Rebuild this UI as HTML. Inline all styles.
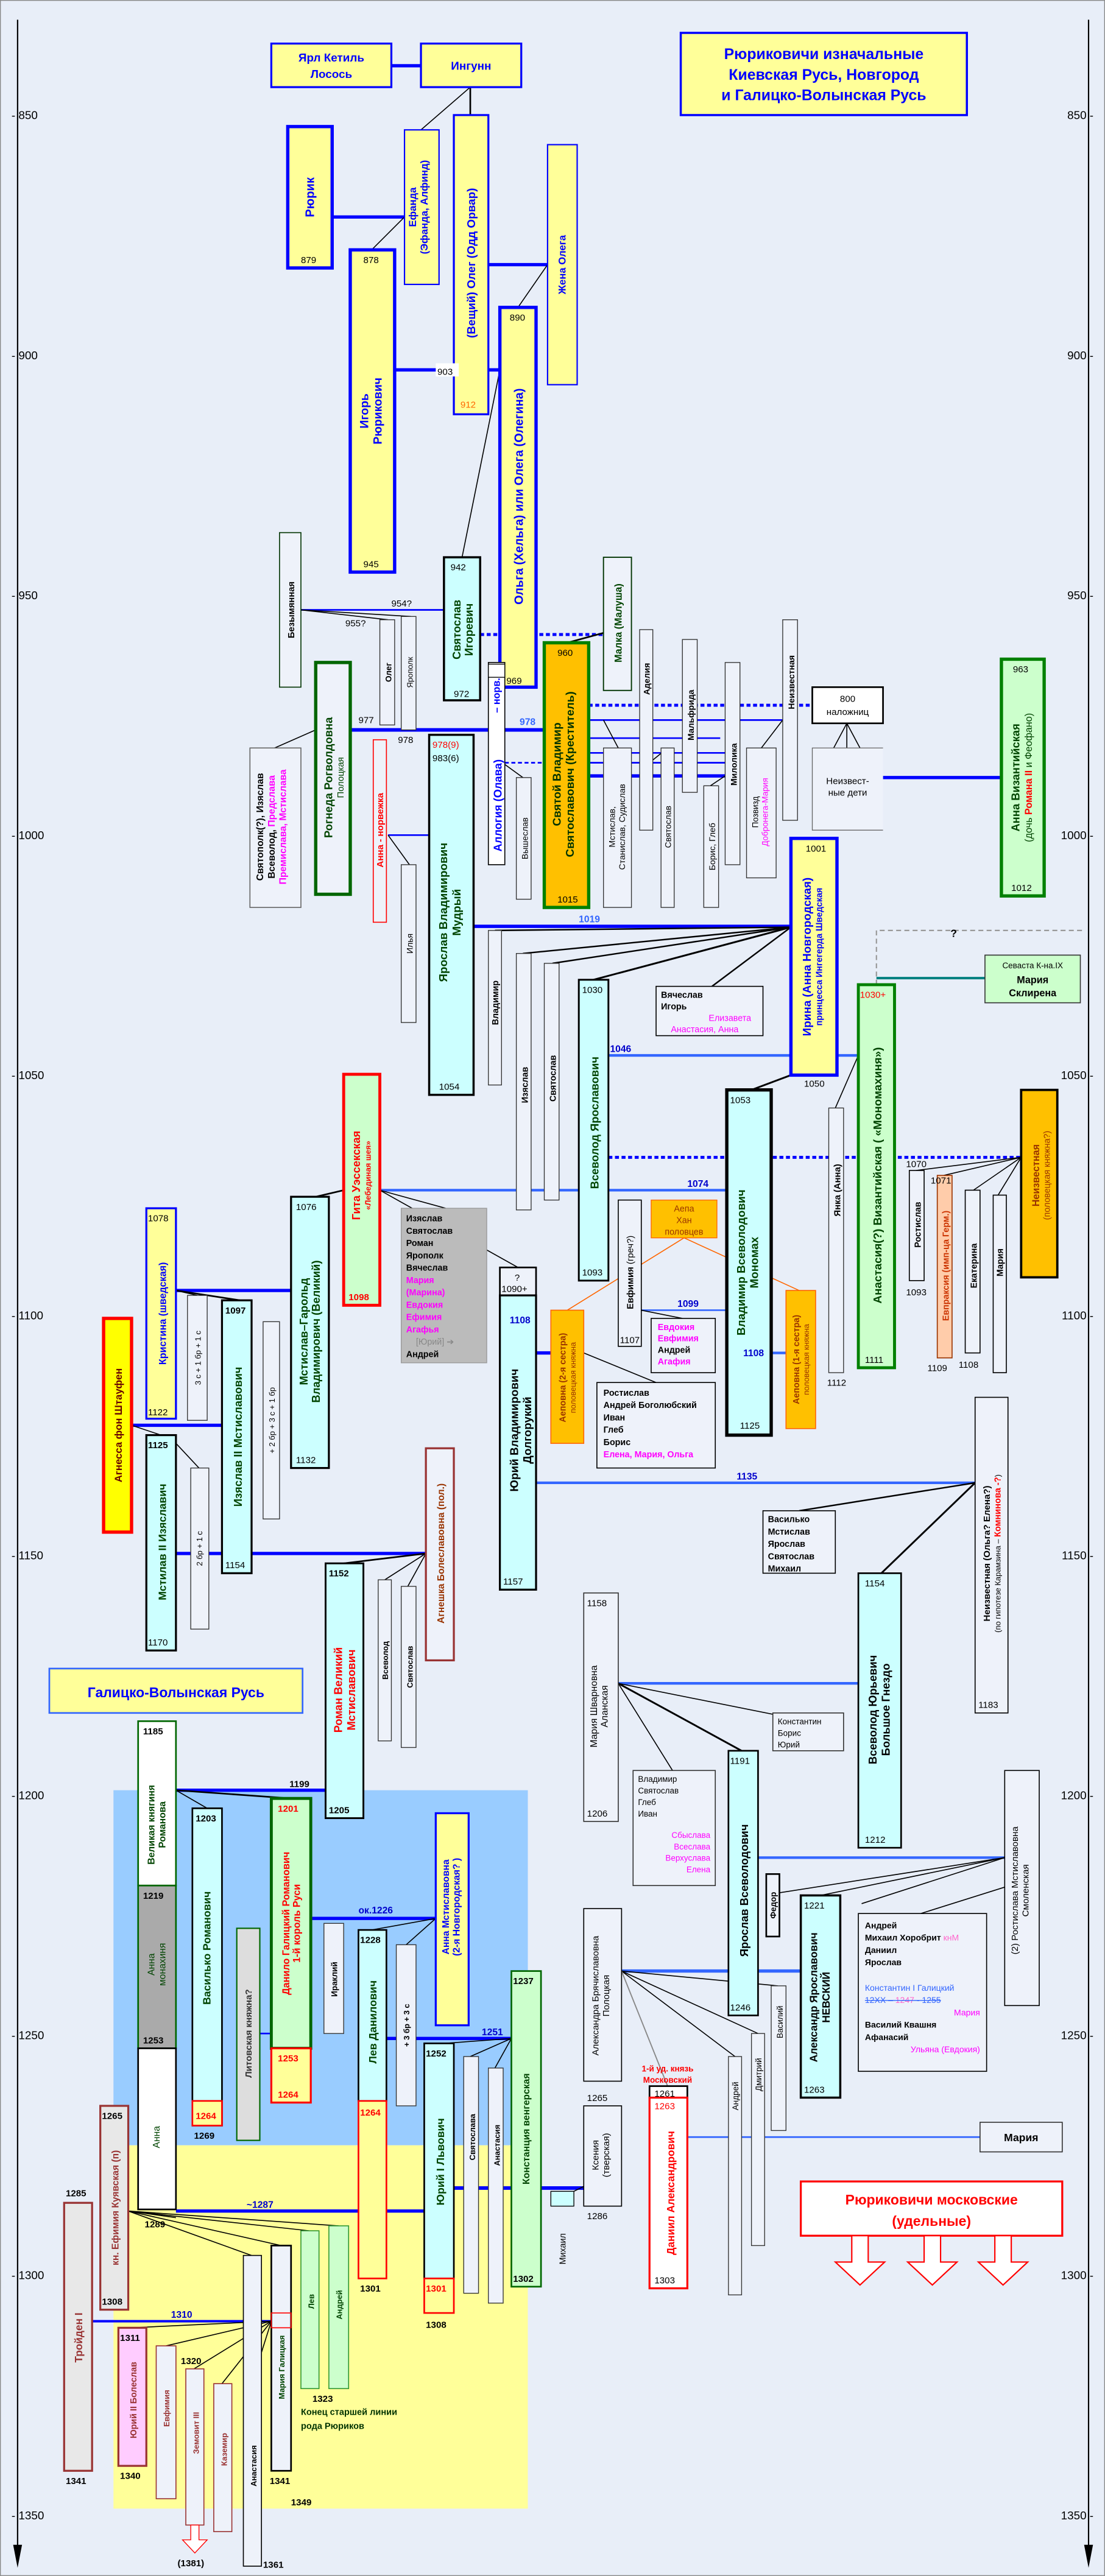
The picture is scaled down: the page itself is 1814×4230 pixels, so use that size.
<!DOCTYPE html>
<html><head><meta charset="utf-8"><style>
html,body{margin:0;padding:0;background:#e8eef8}
svg{display:block}
text{font-family:"Liberation Sans","DejaVu Sans",sans-serif}
.n{font-family:"Liberation Sans Narrow","Liberation Sans",sans-serif;font-size:5.6px;fill:#000}
.b{font-weight:bold}
.bl{fill:#0000ff}
.dg{fill:#004400}
.r{fill:#ff0000}
.m{fill:#ff00ff}
.br{fill:#993300}
.lbl{font-family:"Liberation Sans Narrow","Liberation Sans",sans-serif;font-size:5.8px;font-weight:bold;fill:#0000cc}
</style></head><body>
<svg xmlns="http://www.w3.org/2000/svg" width="1814" height="4230" viewBox="0 0 672 1567" preserveAspectRatio="none">
<rect x="0" y="0" width="672" height="1567" fill="#e8eef8" stroke="#888" stroke-width="1"/>
<!-- regions -->
<rect x="69" y="1089" width="252" height="216" fill="#99ccff"/>
<rect x="69" y="1305" width="252" height="221" fill="#ffff99"/>
<!-- axes -->
<g stroke="#000" stroke-width="0.8">
<line x1="10.7" y1="12" x2="10.7" y2="1556"/><line x1="662" y1="12" x2="662" y2="1556"/>
</g>
<polygon points="8,1548 13.4,1548 10.7,1562" fill="#000"/>
<polygon points="659.3,1548 664.7,1548 662,1562" fill="#000"/>
<g class="n" font-size="7">
<text x="7" y="72.5" font-size="7">- 850</text><text x="7" y="218.5" font-size="7">- 900</text><text x="7" y="364.5" font-size="7">- 950</text>
<text x="7" y="510.5" font-size="7">- 1000</text><text x="7" y="656.5" font-size="7">- 1050</text><text x="7" y="802.5" font-size="7">- 1100</text>
<text x="7" y="948.5" font-size="7">- 1150</text><text x="7" y="1094.5" font-size="7">- 1200</text><text x="7" y="1240.5" font-size="7">- 1250</text>
<text x="7" y="1386.5" font-size="7">- 1300</text><text x="7" y="1532.5" font-size="7">- 1350</text>
</g>
<g class="n" text-anchor="end">
<text x="665" y="72.5" font-size="7">850 -</text><text x="665" y="218.5" font-size="7">900 -</text><text x="665" y="364.5" font-size="7">950 -</text>
<text x="665" y="510.5" font-size="7">1000 -</text><text x="665" y="656.5" font-size="7">1050 -</text><text x="665" y="802.5" font-size="7">1100 -</text>
<text x="665" y="948.5" font-size="7">1150 -</text><text x="665" y="1094.5" font-size="7">1200 -</text><text x="665" y="1240.5" font-size="7">1250 -</text>
<text x="665" y="1386.5" font-size="7">1300 -</text><text x="665" y="1532.5" font-size="7">1350 -</text>
</g>

<!-- ============ CONNECTORS ============ -->
<g stroke="#0000ff" stroke-width="2" fill="none">
<line x1="238" y1="40" x2="256" y2="40"/>
<line x1="202" y1="132" x2="246" y2="132"/>
<line x1="297" y1="161" x2="333" y2="161"/>
<line x1="240" y1="225" x2="304" y2="225"/>
<line x1="183" y1="371" x2="270" y2="371" stroke-width="1"/>
<line x1="213" y1="444" x2="331" y2="444" stroke-width="2.2"/>
<line x1="358" y1="438" x2="476" y2="438" stroke-width="1"/>
<line x1="358" y1="449" x2="438" y2="449" stroke-width="1"/>
<line x1="358" y1="458" x2="441" y2="458" stroke-width="1"/>
<line x1="358" y1="464" x2="441" y2="464" stroke-width="1"/>
<line x1="358" y1="472" x2="441" y2="472" stroke-width="2"/>
<line x1="537" y1="473" x2="609" y2="473" stroke-width="2"/>
<line x1="236" y1="508" x2="261" y2="508" stroke-width="1"/>
<line x1="288" y1="563.5" x2="481" y2="563.5" stroke-width="2"/>
<line x1="107" y1="785" x2="177" y2="785" stroke-width="2"/>
<line x1="80" y1="867" x2="135" y2="867" stroke-width="2"/>
<line x1="107" y1="945" x2="259" y2="945" stroke-width="2"/>
<line x1="326" y1="823" x2="335" y2="823" stroke-width="2"/>
<line x1="107" y1="1089" x2="198" y2="1089" stroke-width="2"/>
<line x1="189" y1="1167" x2="265" y2="1167" stroke-width="2"/>
<line x1="235" y1="1240" x2="311" y2="1240" stroke-width="2"/>
<line x1="107" y1="1345" x2="258" y2="1345" stroke-width="2"/>
<line x1="56" y1="1412" x2="165" y2="1412" stroke-width="1.5"/>
<line x1="276" y1="1331" x2="355" y2="1331" stroke-width="2.2"/>
<line x1="158" y1="1237" x2="165" y2="1237" stroke-width="1"/>
</g>
<g stroke="#3366ff" stroke-width="1.6" fill="none">
<line x1="370" y1="642" x2="522" y2="642"/>
<line x1="231" y1="724" x2="442" y2="724"/>
<line x1="390" y1="797" x2="442" y2="797" stroke-width="1"/>
<line x1="469" y1="823" x2="478" y2="823"/>
<line x1="326" y1="902" x2="593" y2="902"/>
<line x1="376" y1="1024" x2="522" y2="1024"/>
<line x1="461" y1="1130" x2="611" y2="1130"/>
<line x1="378" y1="1199" x2="487" y2="1199" stroke-width="2"/>
<line x1="418" y1="1300" x2="596" y2="1300" stroke-width="1"/>
</g>
<g stroke="#0000ff" stroke-width="1.8" stroke-dasharray="2.4,1.6" fill="none">
<line x1="292" y1="386" x2="367" y2="386"/>
<line x1="358" y1="429" x2="493" y2="429"/>
<line x1="307" y1="464" x2="331" y2="464" stroke-width="1"/>
<line x1="370" y1="704" x2="621" y2="704"/>
</g>
<g stroke="#999" stroke-width="0.8" stroke-dasharray="3,2" fill="none">
<polyline points="533,599 533,566 660,566"/>
</g>
<line x1="533" y1="595" x2="599" y2="595" stroke="#008080" stroke-width="1.5"/>
<g stroke="#000" stroke-width="0.6" fill="none">
<line x1="286" y1="53" x2="256" y2="79"/><line x1="286" y1="53" x2="286" y2="70" stroke-width="1"/>
<line x1="246" y1="132" x2="226" y2="152"/>
<line x1="333" y1="161" x2="315" y2="187"/>
<line x1="304" y1="225" x2="281" y2="339"/>
<line x1="183" y1="371" x2="236" y2="377"/><line x1="183" y1="371" x2="250" y2="375"/>
<line x1="367" y1="385" x2="345" y2="391" stroke-width="1"/>
<line x1="192" y1="444" x2="167" y2="455"/>
<line x1="236" y1="508" x2="249" y2="526"/>
<line x1="307" y1="465" x2="318" y2="473"/>
<line x1="367" y1="438" x2="376" y2="455"/><line x1="395" y1="464" x2="406" y2="455"/><line x1="441" y1="472" x2="432" y2="478"/>
<line x1="476" y1="438" x2="463" y2="455"/>
<line x1="515" y1="440" x2="507" y2="455"/><line x1="515" y1="440" x2="515" y2="455"/><line x1="515" y1="440" x2="523" y2="455"/>
<line x1="481" y1="564" x2="301" y2="566" stroke-width="0.9"/><line x1="481" y1="564" x2="318" y2="580" stroke-width="0.9"/>
<line x1="481" y1="564" x2="336" y2="586" stroke-width="0.9"/><line x1="481" y1="564" x2="361" y2="596" stroke-width="1.1"/>
<line x1="481" y1="564" x2="433" y2="600" stroke-width="0.9"/>
<line x1="481" y1="654" x2="457" y2="663" stroke-width="1.1"/>
<line x1="522" y1="642" x2="508" y2="674"/>
<line x1="621" y1="704" x2="557" y2="712"/><line x1="621" y1="704" x2="574" y2="715"/><line x1="621" y1="704" x2="592" y2="724"/><line x1="621" y1="704" x2="607" y2="727"/>
<line x1="209" y1="724" x2="192" y2="728" stroke-width="1"/>
<line x1="231" y1="724" x2="271" y2="735"/><line x1="231" y1="724" x2="315" y2="771"/>
<line x1="107" y1="785" x2="120" y2="788"/><line x1="107" y1="785" x2="146" y2="791" stroke-width="1"/>
<line x1="80" y1="867" x2="98" y2="873"/><line x1="107" y1="878" x2="121" y2="893"/>
<line x1="259" y1="945" x2="209" y2="951" stroke-width="1"/><line x1="259" y1="945" x2="234" y2="961"/><line x1="259" y1="945" x2="248" y2="965"/>
<line x1="355" y1="823" x2="399" y2="841"/>
<line x1="390" y1="797" x2="415" y2="802"/>
<line x1="593" y1="902" x2="486" y2="919" stroke-width="0.9"/><line x1="593" y1="902" x2="536" y2="957" stroke-width="1.1"/>
<line x1="376" y1="1024" x2="409" y2="1077"/><line x1="376" y1="1024" x2="471" y2="1043"/><line x1="376" y1="1024" x2="451" y2="1065" stroke-width="1.1"/>
<line x1="107" y1="1089" x2="126" y2="1100"/><line x1="107" y1="1089" x2="177" y2="1094" stroke-width="1"/>
<line x1="265" y1="1167" x2="226" y2="1174"/><line x1="265" y1="1167" x2="247" y2="1183"/>
<line x1="311" y1="1240" x2="270" y2="1243"/><line x1="311" y1="1240" x2="286" y2="1251"/><line x1="311" y1="1240" x2="301" y2="1258"/>
<line x1="611" y1="1130" x2="470" y2="1152"/><line x1="611" y1="1130" x2="499" y2="1153"/><line x1="611" y1="1130" x2="524" y2="1158"/>
<line x1="378" y1="1199" x2="473" y2="1208"/><line x1="378" y1="1199" x2="461" y2="1237"/><line x1="378" y1="1199" x2="447" y2="1251"/>
<line x1="630" y1="1142" x2="560" y2="1164"/>
<line x1="78" y1="1345" x2="171" y2="1366"/><line x1="78" y1="1345" x2="153" y2="1372"/><line x1="78" y1="1345" x2="188" y2="1357"/><line x1="78" y1="1345" x2="206" y2="1354"/>
<line x1="78" y1="1345" x2="107" y2="1349"/>
<line x1="165" y1="1412" x2="80" y2="1416"/><line x1="165" y1="1412" x2="101" y2="1427"/><line x1="165" y1="1412" x2="118" y2="1441"/><line x1="165" y1="1412" x2="135" y2="1450"/><line x1="165" y1="1412" x2="153" y2="1450"/>
<line x1="349" y1="1333" x2="355" y2="1330"/>
</g>
<line x1="378" y1="1199" x2="406" y2="1269" stroke="#888" stroke-width="0.7"/>
<line x1="260" y1="756" x2="295" y2="781" stroke="#999" stroke-width="0.5"/>
<g stroke="#ff6600" stroke-width="0.6" fill="none">
<line x1="416" y1="753" x2="345" y2="797"/><line x1="416" y1="753" x2="486" y2="785"/>
</g>

<!-- ============ BOXES ============ -->
<!-- title -->
<rect x="414" y="20" width="174" height="50" fill="#ffff99" stroke="#0000ff" stroke-width="1.3"/>
<g class="b" font-size="9.2" fill="#0000ff" text-anchor="middle" style="font-family:'Liberation Sans Narrow','Liberation Sans',sans-serif">
<text x="501" y="36">Рюриковичи изначальные</text><text x="501" y="48.5">Киевская Русь, Новгород</text><text x="501" y="61">и Галицко-Волынская Русь</text>
</g>
<rect x="165" y="26.5" width="73" height="26.5" fill="#ffff99" stroke="#0000ff" stroke-width="1.2"/>
<rect x="256" y="26.5" width="61" height="26.5" fill="#ffff99" stroke="#0000ff" stroke-width="1.2"/>
<g class="b" font-size="7" fill="#0000ff" text-anchor="middle" style="font-family:'Liberation Sans Narrow','Liberation Sans',sans-serif">
<text x="201.5" y="37.5">Ярл Кетиль</text><text x="201.5" y="47.5">Лосось</text><text x="286.5" y="42.5">Ингунн</text>
</g>

<!-- Rurik etc -->
<rect x="175" y="77" width="27" height="86" fill="#ffff99" stroke="#0000ff" stroke-width="2"/>
<text transform="translate(191,120) rotate(-90)" text-anchor="middle" class="b bl" font-size="7.5">Рюрик</text>
<text x="183" y="160" class="n">879</text>
<rect x="246" y="79" width="21" height="94" fill="#ffff99" stroke="#0000ff" stroke-width="0.8"/>
<text transform="translate(253,126) rotate(-90)" text-anchor="middle" class="b bl" font-size="6.2">Ефанда<tspan x="0" dy="7">(Эфанда, Алфинд)</tspan></text>
<rect x="276" y="70" width="21" height="182" fill="#ffff99" stroke="#0000ff" stroke-width="1.2"/>
<text transform="translate(289,160) rotate(-90)" text-anchor="middle" class="b bl" font-size="7">(Вещий) Олег (Одд Орвар)</text>
<text x="280" y="248" class="n" fill="#ff6600" style="fill:#ff6600">912</text>
<rect x="333" y="88" width="18" height="146" fill="#ffff99" stroke="#0000ff" stroke-width="0.8"/>
<text transform="translate(344,161) rotate(-90)" text-anchor="middle" class="b bl" font-size="6.2">Жена Олега</text>
<rect x="213" y="152" width="27" height="196" fill="#ffff99" stroke="#0000ff" stroke-width="2"/>
<text transform="translate(224,250) rotate(-90)" text-anchor="middle" class="b bl" font-size="7.2">Игорь<tspan x="0" dy="8">Рюрикович</tspan></text>
<text x="221" y="160" class="n">878</text><text x="221" y="345" class="n">945</text>
<rect x="304" y="187" width="22" height="231" fill="#ffff99" stroke="#0000ff" stroke-width="2"/>
<text transform="translate(318,302) rotate(-90)" text-anchor="middle" class="b bl" font-size="7.4">Ольга (Хельга) или Олега (Олегина)</text>
<text x="310" y="195" class="n">890</text><text x="308" y="416" class="n">969</text>
<rect x="265" y="221" width="14" height="8" fill="#fff"/><text x="266" y="228" class="n" font-size="6.5">903</text>

<!-- 950s -->
<rect x="170" y="324" width="13" height="94" fill="#eef2fa" stroke="#003300" stroke-width="0.6"/>
<text transform="translate(179,371) rotate(-90)" text-anchor="middle" class="b" font-size="5.5">Безымянная</text>
<text x="238" y="369" class="n">954?</text><text x="210" y="381" class="n">955?</text>
<rect x="231" y="377" width="9" height="64" fill="#eef2fa" stroke="#333" stroke-width="0.5"/>
<text transform="translate(238,409) rotate(-90)" text-anchor="middle" class="b" font-size="5">Олег</text>
<text x="218" y="440" class="n">977</text>
<rect x="244" y="375" width="9" height="69" fill="#eef2fa" stroke="#333" stroke-width="0.5"/>
<text transform="translate(251,409) rotate(-90)" text-anchor="middle" font-size="4.8">Ярополк</text>
<text x="242" y="452" class="n">978</text>
<rect x="270" y="339" width="22" height="87" fill="#ccffff" stroke="#000" stroke-width="1.3"/>
<text transform="translate(280,383) rotate(-90)" text-anchor="middle" class="b dg" font-size="6.8">Святослав<tspan x="0" dy="7.5">Игоревич</tspan></text>
<text x="274" y="347" class="n">942</text><text x="276" y="424" class="n">972</text>
<rect x="367" y="339" width="17" height="81" fill="#eef2fa" stroke="#003300" stroke-width="0.7"/>
<text transform="translate(378,379) rotate(-90)" text-anchor="middle" class="b dg" font-size="6">Малка (Малуша)</text>
<rect x="297" y="403" width="10" height="123" fill="#fff" stroke="#000" stroke-width="0.6"/>
<text transform="translate(304,423) rotate(-90)" text-anchor="middle" class="b bl" font-size="6">– норв.</text>
<text transform="translate(305,490) rotate(-90)" text-anchor="middle" class="b bl" font-size="6.8">Аллогия (Олава)</text>
<rect x="297" y="404" width="10" height="8" fill="#fff" stroke="#000" stroke-width="0.5"/>
<rect x="331" y="391" width="27" height="161" fill="#ffc000" stroke="#008000" stroke-width="2"/>
<text transform="translate(341,471) rotate(-90)" text-anchor="middle" class="b" font-size="7" fill="#003300">Святой Владимир<tspan x="0" dy="8">Святославович (Креститель)</tspan></text>
<text x="339" y="399" class="n">960</text><text x="339" y="549" class="n">1015</text>
<text x="316" y="441" class="lbl" fill="#3366ff" style="fill:#3366ff">978</text>
<rect x="192" y="403" width="21" height="141" fill="#eef2fa" stroke="#006600" stroke-width="2"/>
<text transform="translate(202,473) rotate(-90)" text-anchor="middle" class="b dg" font-size="6.8">Рогнеда  Рогволдовна<tspan x="0" dy="7" font-size="5.5" font-weight="normal">Полоцкая</tspan></text>
<rect x="152" y="455" width="31" height="97" fill="#eef2fa" stroke="#666" stroke-width="0.6"/>
<text transform="translate(160,503) rotate(-90)" text-anchor="middle" class="b" font-size="5.8">Святополк(?), Изяслав<tspan x="0" dy="7">Всеволод, <tspan class="m">Предслава</tspan></tspan><tspan x="0" dy="7" class="m">Премислава, Мстислава</tspan></text>
<rect x="227" y="450" width="8" height="111" fill="#eef2fa" stroke="#ff0000" stroke-width="0.6"/>
<text transform="translate(233,505) rotate(-90)" text-anchor="middle" class="b r" font-size="5.6">Анна - норвежка</text>
<rect x="244" y="526" width="9" height="96" fill="#eef2fa" stroke="#333" stroke-width="0.5"/>
<text transform="translate(251,574) rotate(-90)" text-anchor="middle" font-size="5.2">Илья</text>
<rect x="261" y="447" width="27" height="219" fill="#ccffff" stroke="#000" stroke-width="1.3"/>
<text transform="translate(272,555) rotate(-90)" text-anchor="middle" class="b dg" font-size="7">Ярослав Владимирович<tspan x="0" dy="8">Мудрый</tspan></text>
<text x="263" y="455" class="n" style="fill:#ff0000">978(9)</text><text x="263" y="463" class="n">983(6)</text><text x="267" y="663" class="n">1054</text>
<rect x="314" y="473" width="9" height="74" fill="#eef2fa" stroke="#333" stroke-width="0.5"/>
<text transform="translate(321,510) rotate(-90)" text-anchor="middle" font-size="5.2">Вышеслав</text>
<rect x="367" y="455" width="17" height="97" fill="#eef2fa" stroke="#333" stroke-width="0.5"/>
<text transform="translate(374,503) rotate(-90)" text-anchor="middle" font-size="5.2">Мстислав,<tspan x="0" dy="6">Станислав, Судислав</tspan></text>
<rect x="389" y="383" width="8" height="122" fill="#eef2fa" stroke="#333" stroke-width="0.5"/>
<text transform="translate(395,413) rotate(-90)" text-anchor="middle" class="b" font-size="5.2">Аделия</text>
<rect x="402" y="455" width="8" height="97" fill="#eef2fa" stroke="#333" stroke-width="0.5"/>
<text transform="translate(408,503) rotate(-90)" text-anchor="middle" font-size="5.2">Святослав</text>
<rect x="415" y="389" width="9" height="93" fill="#eef2fa" stroke="#333" stroke-width="0.5"/>
<text transform="translate(422,435) rotate(-90)" text-anchor="middle" class="b" font-size="5.2">Мальфрида</text>
<rect x="428" y="478" width="9" height="74" fill="#eef2fa" stroke="#333" stroke-width="0.5"/>
<text transform="translate(435,515) rotate(-90)" text-anchor="middle" font-size="5.2">Борис, Глеб</text>
<rect x="441" y="403" width="9" height="123" fill="#eef2fa" stroke="#333" stroke-width="0.5"/>
<text transform="translate(448,465) rotate(-90)" text-anchor="middle" class="b" font-size="5.2">Милолика</text>
<rect x="454" y="455" width="18" height="79" fill="#eef2fa" stroke="#333" stroke-width="0.5"/>
<text transform="translate(461,494) rotate(-90)" text-anchor="middle" font-size="5">Позвизд<tspan x="0" dy="6" class="m">Добронега-Мария</tspan></text>
<rect x="476" y="377" width="9" height="122" fill="#eef2fa" stroke="#333" stroke-width="0.5"/>
<text transform="translate(483,415) rotate(-90)" text-anchor="middle" class="b" font-size="5.2">Неизвестная</text>
<rect x="494" y="418" width="43" height="22" fill="#fff" stroke="#000" stroke-width="1"/>
<text x="515.5" y="427" text-anchor="middle" class="n" font-size="5.5">800</text><text x="515.5" y="435" text-anchor="middle" class="n" font-size="5.5">наложниц</text>
<polyline points="537,455 494,455 494,505 537,505" fill="#eef2fa" stroke="#666" stroke-width="0.5"/>
<text x="515.5" y="477" text-anchor="middle" class="n" font-size="5">Неизвест-</text><text x="515.5" y="484" text-anchor="middle" class="n" font-size="5">ные дети</text>
<rect x="609" y="401" width="26" height="144" fill="#ccffcc" stroke="#008000" stroke-width="2"/>
<text transform="translate(620,473) rotate(-90)" text-anchor="middle" class="b dg" font-size="6.8">Анна Византийская<tspan x="0" dy="7.5" font-weight="normal" font-size="6">(дочь <tspan class="r b">Романа II</tspan> и Феофано)</tspan></text>
<text x="616" y="409" class="n">963</text><text x="615" y="542" class="n">1012</text>

<!-- 1000-1050 -->
<text x="352" y="561" class="lbl" style="fill:#3366ff">1019</text>
<rect x="481" y="510" width="28" height="144" fill="#ffff99" stroke="#0000ff" stroke-width="2"/>
<text transform="translate(493,582) rotate(-90)" text-anchor="middle" class="b bl" font-size="7">Ирина (Анна Новгородская)<tspan x="0" dy="7" font-size="5.3">принцесса Ингегерда Шведская</tspan></text>
<text x="490" y="518" class="n">1001</text><text x="489" y="661" class="n">1050</text>
<rect x="297" y="566" width="8" height="94" fill="#eef2fa" stroke="#333" stroke-width="0.5"/>
<text transform="translate(303,610) rotate(-90)" text-anchor="middle" class="b" font-size="5.3">Владимир</text>
<rect x="314" y="580" width="9" height="156" fill="#eef2fa" stroke="#333" stroke-width="0.5"/>
<text transform="translate(321,660) rotate(-90)" text-anchor="middle" class="b" font-size="5.3">Изяслав</text>
<rect x="331" y="586" width="9" height="144" fill="#eef2fa" stroke="#333" stroke-width="0.5"/>
<text transform="translate(338,656) rotate(-90)" text-anchor="middle" class="b" font-size="5.3">Святослав</text>
<rect x="352" y="596" width="18" height="183" fill="#ccffff" stroke="#000" stroke-width="1.1"/>
<text transform="translate(364,683) rotate(-90)" text-anchor="middle" class="b dg" font-size="6.8">Всеволод Ярославович</text>
<text x="354" y="604" class="n">1030</text><text x="354" y="776" class="n">1093</text>
<rect x="399" y="600" width="65" height="30" fill="#eef2fa" stroke="#000" stroke-width="0.6"/>
<g class="n" font-size="5.3"><text x="402" y="607" font-size="5.3" font-weight="bold">Вячеслав</text><text x="402" y="614" font-size="5.3" font-weight="bold">Игорь</text>
<text x="431" y="621" font-size="5.3" class="m" style="fill:#ff00ff">Елизавета</text><text x="408" y="628" font-size="5.3" style="fill:#ff00ff">Анастасия, Анна</text></g>
<text x="371" y="640" class="lbl">1046</text>
<rect x="599" y="581" width="58" height="29" fill="#ccffcc" stroke="#333" stroke-width="0.6"/>
<g class="n" text-anchor="middle"><text x="628" y="589" font-size="5">Севаста К-на.IX</text><text x="628" y="598" font-size="6" font-weight="bold">Мария</text><text x="628" y="606" font-size="6" font-weight="bold">Склирена</text></g>
<text x="578" y="570" class="b" font-size="6.5">?</text>
<rect x="522" y="599" width="22" height="233" fill="#ccffcc" stroke="#008000" stroke-width="1.8"/>
<text transform="translate(536,715) rotate(-90)" text-anchor="middle" class="b dg" font-size="7">Анастасия(?) Византийская ( «Мономахиня»)</text>
<text x="523" y="607" class="n" style="fill:#ff0000">1030+</text><text x="526" y="829" class="n">1111</text>
<rect x="442" y="663" width="27" height="210" fill="#ccffff" stroke="#000" stroke-width="2"/>
<text transform="translate(453,768) rotate(-90)" text-anchor="middle" class="b dg" font-size="7">Владимир Всеволодович<tspan x="0" dy="8">Мономах</tspan></text>
<text x="444" y="671" class="n">1053</text><text x="450" y="869" class="n">1125</text>
<rect x="504" y="674" width="9" height="161" fill="#eef2fa" stroke="#333" stroke-width="0.5"/>
<text transform="translate(511,724) rotate(-90)" text-anchor="middle" class="b" font-size="5.5">Янка (Анна)</text>
<text x="503" y="843" class="n">1112</text>
<rect x="621" y="663" width="22" height="114" fill="#ffc000" stroke="#000" stroke-width="1.4"/>
<text transform="translate(632,715) rotate(-90)" text-anchor="middle" class="b br" font-size="6" style="fill:#993300">Неизвестная<tspan x="0" dy="6.5" font-weight="normal" font-size="5.3">(половецкая княжна?)</tspan></text>
<rect x="553" y="712" width="9" height="67" fill="#eef2fa" stroke="#000" stroke-width="0.6"/>
<text transform="translate(560,745) rotate(-90)" text-anchor="middle" class="b" font-size="5.3">Ростислав</text>
<text x="551" y="710" class="n">1070</text><text x="551" y="788" class="n">1093</text>
<rect x="570" y="715" width="9" height="111" fill="#ffccaa" stroke="#993300" stroke-width="0.6"/>
<text transform="translate(577,770) rotate(-90)" text-anchor="middle" class="b br" font-size="5.3" style="fill:#cc3300">Евпраксия (имп-ца Герм.)</text>
<text x="566" y="720" class="n">1071</text><text x="564" y="834" class="n">1109</text>
<rect x="587" y="724" width="9" height="99" fill="#eef2fa" stroke="#000" stroke-width="0.6"/>
<text transform="translate(594,770) rotate(-90)" text-anchor="middle" class="b" font-size="5.3">Екатерина</text>
<text x="583" y="832" class="n">1108</text>
<rect x="604" y="727" width="8" height="108" fill="#eef2fa" stroke="#000" stroke-width="0.6"/>
<text transform="translate(610,768) rotate(-90)" text-anchor="middle" class="b" font-size="5.3">Мария</text>
<text x="418" y="722" class="lbl">1074</text>

<!-- 1050-1100 left -->
<rect x="209" y="653.5" width="22" height="140.5" fill="#ccffcc" stroke="#ff0000" stroke-width="1.8"/>
<text transform="translate(219,715) rotate(-90)" text-anchor="middle" class="b r" font-size="6.8">Гита Уэссекская<tspan x="0" dy="6.5" font-size="4.8">«Лебединая шея»</tspan></text>
<text x="212" y="791" class="n" style="fill:#ff0000;font-weight:bold">1098</text>
<rect x="177" y="728" width="23" height="165" fill="#ccffff" stroke="#000" stroke-width="1.2"/>
<text transform="translate(187,810) rotate(-90)" text-anchor="middle" class="b dg" font-size="6.8">Мстислав–Гарольд<tspan x="0" dy="7.5">Владимирович (Великий)</tspan></text>
<text x="180" y="736" class="n">1076</text><text x="180" y="890" class="n">1132</text>
<rect x="244" y="735" width="52" height="94" fill="#bbbbbb" stroke="#999" stroke-width="0.5"/>
<g class="b" font-size="5.3" style="font-family:'Liberation Sans Narrow','Liberation Sans',sans-serif">
<text x="247" y="743">Изяслав</text><text x="247" y="750.5">Святослав</text><text x="247" y="758">Роман</text><text x="247" y="765.5">Ярополк</text><text x="247" y="773">Вячеслав</text>
<text x="247" y="780.5" fill="#ff00ff">Мария</text><text x="247" y="788" fill="#ff00ff">(Марина)</text><text x="247" y="795.5" fill="#ff00ff">Евдокия</text><text x="247" y="803" fill="#ff00ff">Ефимия</text><text x="247" y="810.5" fill="#ff00ff">Агафья</text>
<text x="253" y="818" fill="#888" font-weight="normal">[Юрий] ➔</text><text x="247" y="825.5">Андрей</text></g>
<rect x="304" y="771" width="22" height="17" fill="#eef2fa" stroke="#000" stroke-width="1"/>
<text x="313" y="779" class="n">?</text><text x="305" y="786" class="n">1090+</text>
<rect x="304" y="788" width="22" height="179" fill="#ccffff" stroke="#000" stroke-width="1.2"/>
<text transform="translate(315,870) rotate(-90)" text-anchor="middle" class="b" font-size="7">Юрий Владимирович<tspan x="0" dy="8">Долгорукий</tspan></text>
<text x="310" y="805" class="lbl">1108</text><text x="306" y="964" class="n">1157</text>
<rect x="89" y="735" width="18" height="128" fill="#ffff99" stroke="#0000ff" stroke-width="1.2"/>
<text transform="translate(101,799) rotate(-90)" text-anchor="middle" class="b bl" font-size="6">Кристина (шведская)</text>
<text x="90" y="743" class="n">1078</text><text x="90" y="861" class="n">1122</text>
<rect x="114" y="788" width="12" height="76" fill="#eef2fa" stroke="#333" stroke-width="0.5"/>
<text transform="translate(122,826) rotate(-90)" text-anchor="middle" font-size="4.8">3 с + 1 бр + 1 с</text>
<rect x="135" y="791" width="18" height="166" fill="#ccffff" stroke="#000" stroke-width="1.2"/>
<text transform="translate(147,874) rotate(-90)" text-anchor="middle" class="b dg" font-size="6.8">Изяслав II  Мстиславович</text>
<text x="137" y="799" class="n b" style="font-weight:bold">1097</text><text x="137" y="954" class="n">1154</text>
<rect x="160" y="804" width="10" height="120" fill="#eef2fa" stroke="#333" stroke-width="0.5"/>
<text transform="translate(167,864) rotate(-90)" text-anchor="middle" font-size="4.8">+ 2 бр + 3 с + 1 бр</text>
<rect x="63" y="802" width="17" height="130" fill="#ffff00" stroke="#ff0000" stroke-width="2"/>
<text transform="translate(74,867) rotate(-90)" text-anchor="middle" class="b" font-size="6.2" fill="#660000">Агнесса фон Штауфен</text>
<rect x="89" y="873" width="18" height="131" fill="#ccffff" stroke="#000" stroke-width="1.2"/>
<text transform="translate(101,938) rotate(-90)" text-anchor="middle" class="b dg" font-size="6.6">Мстилав II  Изяславич</text>
<text x="90" y="881" class="n b" style="font-weight:bold">1125</text><text x="90" y="1001" class="n">1170</text>
<rect x="116" y="893" width="11" height="98" fill="#eef2fa" stroke="#333" stroke-width="0.5"/>
<text transform="translate(123,942) rotate(-90)" text-anchor="middle" font-size="4.8">2 бр + 1 с</text>

<!-- Aepa group -->
<rect x="396" y="730" width="40" height="23" fill="#ffc000" stroke="#ff6600" stroke-width="0.5"/>
<g class="n" text-anchor="middle" style="fill:#993300"><text x="416" y="737" font-size="5.3" style="fill:#993300">Аепа</text><text x="416" y="744" font-size="5.3" style="fill:#993300">Хан</text><text x="416" y="751" font-size="5.3" style="fill:#993300">половцев</text></g>
<rect x="376" y="730" width="14" height="89" fill="#eef2fa" stroke="#000" stroke-width="0.6"/>
<text transform="translate(385,774) rotate(-90)" text-anchor="middle" class="b" font-size="5.5">Евфимия <tspan font-weight="normal">(греч?)</tspan></text>
<text x="377" y="817" class="n">1107</text>
<text x="412" y="795" class="lbl">1099</text>
<rect x="396" y="802" width="39" height="33" fill="#eef2fa" stroke="#000" stroke-width="0.6"/>
<g class="b" font-size="5.3" style="font-family:'Liberation Sans Narrow','Liberation Sans',sans-serif"><text x="400" y="809" fill="#ff00ff">Евдокия</text><text x="400" y="816" fill="#ff00ff">Евфимия</text><text x="400" y="823">Андрей</text><text x="400" y="830" fill="#ff00ff">Агафия</text></g>
<rect x="335" y="797" width="20" height="81" fill="#ffc000" stroke="#ff6600" stroke-width="0.6"/>
<text transform="translate(344,838) rotate(-90)" text-anchor="middle" class="b br" font-size="5.3" style="fill:#993300">Аеповна (2-я сестра)<tspan x="0" dy="6" font-weight="normal" font-size="4.8">половецкая княжна</tspan></text>
<rect x="478" y="785" width="18" height="84" fill="#ffc000" stroke="#ff6600" stroke-width="0.6"/>
<text transform="translate(486,827) rotate(-90)" text-anchor="middle" class="b br" font-size="5.3" style="fill:#993300">Аеповна (1-я сестра)<tspan x="0" dy="6" font-weight="normal" font-size="4.8">половецкая княжна</tspan></text>
<text x="452" y="825" class="lbl">1108</text>
<rect x="363" y="841" width="72" height="52" fill="#eef2fa" stroke="#000" stroke-width="0.6"/>
<g class="b" font-size="5.3" style="font-family:'Liberation Sans Narrow','Liberation Sans',sans-serif"><text x="367" y="849">Ростислав</text><text x="367" y="856.5">Андрей Боголюбский</text><text x="367" y="864">Иван</text><text x="367" y="871.5">Глеб</text><text x="367" y="879">Борис</text><text x="367" y="886.5" fill="#ff00ff">Елена, Мария, Ольга</text></g>
<text x="448" y="900" class="lbl">1135</text>
<rect x="593" y="850" width="20" height="192" fill="#eef2fa" stroke="#000" stroke-width="0.6"/>
<text transform="translate(602,945) rotate(-90)" text-anchor="middle" class="b" font-size="5.6">Неизвестная (Ольга? Елена?)<tspan x="0" dy="6.5" font-weight="normal" font-size="4.8">(по гипотезе Карамзина – <tspan class="r b" font-size="5.4">Комнинова -?</tspan>)</tspan></text>
<text x="595" y="1039" class="n">1183</text>
<rect x="464" y="919" width="44" height="38" fill="#eef2fa" stroke="#000" stroke-width="0.6"/>
<g class="b" font-size="5.3" style="font-family:'Liberation Sans Narrow','Liberation Sans',sans-serif"><text x="467" y="926">Василько</text><text x="467" y="933.5">Мстислав</text><text x="467" y="941">Ярослав</text><text x="467" y="948.5">Святослав</text><text x="467" y="956">Михаил</text></g>
<rect x="522" y="957" width="26" height="167" fill="#ccffff" stroke="#000" stroke-width="1"/>
<text transform="translate(533,1040) rotate(-90)" text-anchor="middle" class="b" font-size="6.8">Всеволод Юрьевич<tspan x="0" dy="8">Большое Гнездо</tspan></text>
<text x="526" y="965" class="n">1154</text><text x="526" y="1121" class="n">1212</text>

<!-- 1150-1200 -->
<rect x="259" y="881" width="17" height="129" fill="#eef2fa" stroke="#993333" stroke-width="1.2"/>
<text transform="translate(270,945) rotate(-90)" text-anchor="middle" class="b" font-size="5.8" fill="#993300">Агнешка Болеславовна (пол.)</text>
<rect x="198" y="951" width="23" height="155" fill="#ccffff" stroke="#000" stroke-width="1.1"/>
<text transform="translate(208,1028) rotate(-90)" text-anchor="middle" class="b r" font-size="6.8">Роман Великий<tspan x="0" dy="8">Мстиславович</tspan></text>
<text x="200" y="959" class="n" style="font-weight:bold">1152</text><text x="200" y="1103" class="n" style="font-weight:bold">1205</text>
<rect x="230" y="961" width="8" height="98" fill="#eef2fa" stroke="#333" stroke-width="0.5"/>
<text transform="translate(236,1010) rotate(-90)" text-anchor="middle" class="b" font-size="4.8">Всеволод</text>
<rect x="244" y="965" width="9" height="98" fill="#eef2fa" stroke="#333" stroke-width="0.5"/>
<text transform="translate(251,1014) rotate(-90)" text-anchor="middle" class="b" font-size="4.8">Святослав</text>
<rect x="30" y="1015" width="154" height="27" fill="#ffff99" stroke="#3366ff" stroke-width="1"/>
<text x="107" y="1032.5" text-anchor="middle" class="b bl" font-size="8.5" style="font-family:'Liberation Sans Narrow','Liberation Sans',sans-serif">Галицко-Волынская Русь</text>
<rect x="355" y="969" width="21" height="139" fill="#eef2fa" stroke="#333" stroke-width="0.6"/>
<text transform="translate(363,1038) rotate(-90)" text-anchor="middle" font-size="5.8">Мария Шварновна<tspan x="0" dy="6.5">Аланская</tspan></text>
<text x="357" y="977" class="n">1158</text><text x="357" y="1105" class="n">1206</text>
<rect x="470" y="1042" width="43" height="23" fill="#eef2fa" stroke="#333" stroke-width="0.6"/>
<g class="n" font-size="5"><text x="473" y="1049" font-size="5">Константин</text><text x="473" y="1056" font-size="5">Борис</text><text x="473" y="1063" font-size="5">Юрий</text></g>
<rect x="385" y="1077" width="50" height="70" fill="#eef2fa" stroke="#333" stroke-width="0.6"/>
<g class="n" font-size="5"><text x="388" y="1084" font-size="5">Владимир</text><text x="388" y="1091" font-size="5">Святослав</text><text x="388" y="1098" font-size="5">Глеб</text><text x="388" y="1105" font-size="5">Иван</text>
<text x="432" y="1118" text-anchor="end" font-size="5" style="fill:#ff00ff">Сбыслава</text><text x="432" y="1125" text-anchor="end" font-size="5" style="fill:#ff00ff">Всеслава</text><text x="432" y="1132" text-anchor="end" font-size="5" style="fill:#ff00ff">Верхуслава</text><text x="432" y="1139" text-anchor="end" font-size="5" style="fill:#ff00ff">Елена</text></g>
<rect x="443" y="1065" width="18" height="161" fill="#ccffff" stroke="#000" stroke-width="1"/>
<text transform="translate(455,1150) rotate(-90)" text-anchor="middle" class="b" font-size="6.8">Ярослав Всеволодович</text>
<text x="444" y="1073" class="n">1191</text><text x="444" y="1223" class="n">1246</text>
<rect x="611" y="1077" width="21" height="143" fill="#eef2fa" stroke="#000" stroke-width="0.6"/>
<text transform="translate(619,1150) rotate(-90)" text-anchor="middle" font-size="5.6">(2) Ростислава Мстиславовна<tspan x="0" dy="6.5">Смоленская</tspan></text>
<rect x="466" y="1140" width="8" height="38" fill="#eef2fa" stroke="#000" stroke-width="1"/>
<text transform="translate(472,1159) rotate(-90)" text-anchor="middle" class="b" font-size="5">Федор</text>

<!-- Galicia -->
<rect x="84" y="1047" width="23" height="100" fill="#fff" stroke="#006600" stroke-width="1"/>
<text transform="translate(94,1110) rotate(-90)" text-anchor="middle" class="b dg" font-size="5.8">Великая княгиня<tspan x="0" dy="6.5">Романова</tspan></text>
<text x="87" y="1055" class="n" style="font-weight:bold">1185</text>
<rect x="84" y="1147" width="23" height="99" fill="#aaaaaa" stroke="#006600" stroke-width="1"/>
<text transform="translate(94,1195) rotate(-90)" text-anchor="middle" class="dg" font-size="5.8">Анна<tspan x="0" dy="6.5">монахиня</tspan></text>
<text x="87" y="1155" class="n" style="font-weight:bold">1219</text><text x="87" y="1243" class="n" style="font-weight:bold">1253</text>
<rect x="84" y="1246" width="23" height="98" fill="#fff" stroke="#000" stroke-width="1"/>
<text transform="translate(97,1300) rotate(-90)" text-anchor="middle" class="dg" font-size="5.8">Анна</text>
<text x="88" y="1355" class="n" style="font-weight:bold">1289</text>
<text x="176" y="1087" class="n" style="font-weight:bold">1199</text>
<rect x="117" y="1100" width="18" height="193" fill="#ccffff" stroke="#000" stroke-width="1"/>
<rect x="117" y="1278" width="18" height="15" fill="#ffff99" stroke="#ff0000" stroke-width="1"/>
<text transform="translate(128,1185) rotate(-90)" text-anchor="middle" class="b dg" font-size="6.5">Василько Романович</text>
<text x="119" y="1108" class="n" style="font-weight:bold">1203</text><text x="119" y="1289" class="n" style="fill:#ff0000;font-weight:bold">1264</text>
<text x="118" y="1301" class="n" style="font-weight:bold">1269</text>
<rect x="144" y="1173" width="14" height="129" fill="#dddddd" stroke="#006600" stroke-width="0.8"/>
<text transform="translate(153,1237) rotate(-90)" text-anchor="middle" class="b" font-size="5.6" fill="#333">Литовская княжна?</text>
<rect x="165" y="1094" width="24" height="152" fill="#ccffcc" stroke="#006600" stroke-width="1.8"/>
<rect x="165" y="1246" width="24" height="33" fill="#ffff99" stroke="#ff0000" stroke-width="1.2"/>
<text transform="translate(176,1170) rotate(-90)" text-anchor="middle" class="b r" font-size="6">Данило Галицкий Романович<tspan x="0" dy="6.5">1-й король Руси</tspan></text>
<text x="169" y="1102" class="n" style="fill:#ff0000;font-weight:bold">1201</text><text x="169" y="1254" class="n" style="fill:#ff0000;font-weight:bold">1253</text><text x="169" y="1276" class="n" style="fill:#ff0000;font-weight:bold">1264</text>
<rect x="265" y="1103" width="20" height="129" fill="#ffff99" stroke="#0000ff" stroke-width="1.2"/>
<text transform="translate(273,1160) rotate(-90)" text-anchor="middle" class="b bl" font-size="5.8">Анна Мстиславовна<tspan x="0" dy="6.5">(2-я Новгородская? )</tspan></text>
<text x="218" y="1164" class="lbl">ок.1226</text>
<rect x="197" y="1170" width="12" height="67" fill="#eef2fa" stroke="#333" stroke-width="0.5"/>
<text transform="translate(205,1204) rotate(-90)" text-anchor="middle" class="b" font-size="5">Ираклий</text>
<rect x="218" y="1174" width="17" height="104" fill="#ccffff" stroke="#000" stroke-width="1"/>
<rect x="218" y="1278" width="17" height="108" fill="#ffff99" stroke="#ff0000" stroke-width="1"/>
<text transform="translate(229,1230) rotate(-90)" text-anchor="middle" class="b dg" font-size="6.6">Лев Данилович</text>
<text x="219" y="1182" class="n" style="font-weight:bold">1228</text><text x="219" y="1287" class="n" style="fill:#ff0000;font-weight:bold">1264</text><text x="219" y="1394" class="n" style="font-weight:bold">1301</text>
<rect x="241" y="1183" width="12" height="98" fill="#eef2fa" stroke="#333" stroke-width="0.5"/>
<text transform="translate(249,1232) rotate(-90)" text-anchor="middle" class="b" font-size="4.8">+ 3 бр + 3 с</text>
<text x="293" y="1238" class="lbl">1251</text>
<rect x="311" y="1199" width="18" height="192" fill="#ccffcc" stroke="#006600" stroke-width="1"/>
<text transform="translate(322,1295) rotate(-90)" text-anchor="middle" class="b dg" font-size="5.8">Констанция венгерская</text>
<text x="312" y="1207" class="n" style="font-weight:bold">1237</text><text x="312" y="1388" class="n" style="font-weight:bold">1302</text>
<rect x="258" y="1243" width="18" height="143" fill="#ccffff" stroke="#000" stroke-width="1"/>
<rect x="258" y="1386" width="18" height="21" fill="#ffff99" stroke="#ff0000" stroke-width="1"/>
<text transform="translate(270,1315) rotate(-90)" text-anchor="middle" class="b dg" font-size="6.6">Юрий I  Львович</text>
<text x="259" y="1251" class="n" style="font-weight:bold">1252</text><text x="259" y="1394" class="n" style="fill:#ff0000;font-weight:bold">1301</text><text x="259" y="1416" class="n" style="font-weight:bold">1308</text>
<rect x="282" y="1251" width="9" height="144" fill="#eef2fa" stroke="#333" stroke-width="0.5"/>
<text transform="translate(289,1300) rotate(-90)" text-anchor="middle" class="b" font-size="4.8">Святослава</text>
<rect x="297" y="1258" width="9" height="143" fill="#eef2fa" stroke="#333" stroke-width="0.5"/>
<text transform="translate(304,1305) rotate(-90)" text-anchor="middle" class="b" font-size="4.8">Анастасия</text>
<text x="150" y="1343" class="lbl">~1287</text>

<!-- Nevsky group -->
<rect x="355" y="1161" width="23" height="105" fill="#eef2fa" stroke="#000" stroke-width="0.6"/>
<text transform="translate(364,1214) rotate(-90)" text-anchor="middle" font-size="5.6">Александра Брячиславовна<tspan x="0" dy="6.5">Полоцкая</tspan></text>
<rect x="355" y="1281" width="23" height="61" fill="#eef2fa" stroke="#000" stroke-width="0.6"/>
<text transform="translate(364,1311) rotate(-90)" text-anchor="middle" font-size="5.6">Ксения<tspan x="0" dy="6.5">(тверская)</tspan></text>
<text x="357" y="1278" class="n">1265</text><text x="357" y="1350" class="n">1286</text>
<rect x="335" y="1333" width="14" height="9" fill="#ccffff" stroke="#000" stroke-width="0.5"/>
<text transform="translate(344,1368) rotate(-90)" text-anchor="middle" font-size="5.3">Михаил</text>
<text x="406" y="1260" text-anchor="middle" class="b r" font-size="5" style="font-family:'Liberation Sans Narrow','Liberation Sans',sans-serif">1-й уд. князь</text>
<text x="406" y="1267" text-anchor="middle" class="b r" font-size="5" style="font-family:'Liberation Sans Narrow','Liberation Sans',sans-serif">Московский</text>
<rect x="395" y="1269" width="23" height="7" fill="#fff" stroke="#000" stroke-width="1"/>
<rect x="395" y="1276" width="23" height="116" fill="#fff" stroke="#ff0000" stroke-width="1.2"/>
<text transform="translate(410,1334) rotate(-90)" text-anchor="middle" class="b r" font-size="6.4">Даниил Александрович</text>
<text x="398" y="1275.5" class="n">1261</text><text x="398" y="1283" class="n" style="fill:#ff0000">1263</text><text x="398" y="1389" class="n">1303</text>
<rect x="443" y="1251" width="8" height="145" fill="#eef2fa" stroke="#333" stroke-width="0.5"/>
<text transform="translate(449,1275) rotate(-90)" text-anchor="middle" font-size="5">Андрей</text>
<rect x="457" y="1237" width="8" height="129" fill="#eef2fa" stroke="#333" stroke-width="0.5"/>
<text transform="translate(463,1262) rotate(-90)" text-anchor="middle" font-size="5">Дмитрий</text>
<rect x="469" y="1208" width="9" height="88" fill="#eef2fa" stroke="#333" stroke-width="0.5"/>
<text transform="translate(476,1230) rotate(-90)" text-anchor="middle" font-size="5">Василий</text>
<rect x="487" y="1153" width="24" height="123" fill="#ccffff" stroke="#000" stroke-width="1.3"/>
<text transform="translate(497,1215) rotate(-90)" text-anchor="middle" class="b" font-size="6.4">Александр Ярославович<tspan x="0" dy="7.5">НЕВСКИЙ</tspan></text>
<text x="489" y="1161" class="n">1221</text><text x="489" y="1273" class="n">1263</text>
<rect x="522" y="1164" width="78" height="96" fill="#eef2fa" stroke="#000" stroke-width="0.6"/>
<g class="b" font-size="5.2" style="font-family:'Liberation Sans Narrow','Liberation Sans',sans-serif">
<text x="526" y="1173">Андрей</text><text x="526" y="1180.5">Михаил Хоробрит <tspan fill="#ff66cc" font-weight="normal">кнМ</tspan></text><text x="526" y="1188">Даниил</text><text x="526" y="1195.5">Ярослав</text>
<text x="526" y="1211" fill="#3366ff" font-weight="normal">Константин I Галицкий</text>
<text x="526" y="1218.5" fill="#3366ff" font-weight="normal" text-decoration="line-through">12XX – <tspan fill="#ff66cc">1247</tspan> - 1255</text>
<text x="596" y="1226" text-anchor="end" fill="#ff00ff" font-weight="normal">Мария</text>
<text x="526" y="1233.5">Василий Квашня</text><text x="526" y="1241">Афанасий</text><text x="596" y="1248.5" text-anchor="end" fill="#ff00ff" font-weight="normal">Ульяна (Евдокия)</text></g>
<rect x="596" y="1291" width="50" height="18" fill="#eef2fa" stroke="#333" stroke-width="0.6"/>
<text x="621" y="1302.5" text-anchor="middle" class="b" font-size="6.5" style="font-family:'Liberation Sans Narrow','Liberation Sans',sans-serif">Мария</text>
<rect x="487" y="1327" width="159" height="33" fill="#fff" stroke="#ff0000" stroke-width="1.2"/>
<text x="566.5" y="1341" text-anchor="middle" class="b r" font-size="8.5" style="font-family:'Liberation Sans Narrow','Liberation Sans',sans-serif">Рюриковичи московские</text>
<text x="566.5" y="1354" text-anchor="middle" class="b r" font-size="8.5" style="font-family:'Liberation Sans Narrow','Liberation Sans',sans-serif">(удельные)</text>
<g fill="#fff" stroke="#ff0000" stroke-width="0.8">
<polygon points="518,1360 528,1360 528,1376 538,1376 523,1390 508,1376 518,1376"/>
<polygon points="562,1360 572,1360 572,1376 582,1376 567,1390 552,1376 562,1376"/>
<polygon points="605,1360 615,1360 615,1376 625,1376 610,1390 595,1376 605,1376"/>
</g>

<!-- bottom left -->
<rect x="39" y="1340" width="17" height="163" fill="#e8e8e8" stroke="#993333" stroke-width="1.2"/>
<text transform="translate(50,1422) rotate(-90)" text-anchor="middle" class="b" font-size="6.4" fill="#993333">Тройден I</text>
<text x="40" y="1336" class="n" style="font-weight:bold">1285</text><text x="40" y="1511" class="n" style="font-weight:bold">1341</text>
<rect x="61" y="1281" width="17" height="124" fill="#e8e8e8" stroke="#993333" stroke-width="1.2"/>
<text transform="translate(72,1343) rotate(-90)" text-anchor="middle" class="b" font-size="5.8" fill="#993333">кн. Ефимия Куявская (п)</text>
<text x="62" y="1289" class="n" style="font-weight:bold">1265</text><text x="62" y="1402" class="n" style="font-weight:bold">1308</text>
<text x="104" y="1410" class="lbl">1310</text>
<rect x="72" y="1416" width="17" height="84" fill="#ffccff" stroke="#993333" stroke-width="1.2"/>
<text transform="translate(83,1460) rotate(-90)" text-anchor="middle" class="b" font-size="5.3" fill="#993333">Юрий II  Болеслав</text>
<text x="73" y="1424" class="n" style="font-weight:bold">1311</text><text x="73" y="1508" class="n" style="font-weight:bold">1340</text>
<rect x="95" y="1427" width="12" height="93" fill="#eef2fa" stroke="#993333" stroke-width="0.6"/>
<text transform="translate(103,1465) rotate(-90)" text-anchor="middle" class="b" font-size="4.8" fill="#993333">Евфимия</text>
<rect x="113" y="1441" width="11" height="95" fill="#eef2fa" stroke="#993333" stroke-width="0.6"/>
<text transform="translate(121,1480) rotate(-90)" text-anchor="middle" class="b" font-size="4.8" fill="#993333">Земовит III</text>
<polygon points="116,1536 121,1536 121,1545 126,1545 118.5,1553 111,1545 116,1545" fill="#fff" stroke="#ff0000" stroke-width="0.5"/>
<text x="110" y="1438" class="n" style="font-weight:bold">1320</text>
<text x="108" y="1561" class="n" style="font-weight:bold">(1381)</text>
<rect x="130" y="1450" width="11" height="90" fill="#eef2fa" stroke="#993333" stroke-width="0.6"/>
<text transform="translate(138,1490) rotate(-90)" text-anchor="middle" class="b" font-size="4.8" fill="#993333">Каземир</text>
<rect x="148" y="1372" width="11" height="189" fill="#eef2fa" stroke="#000" stroke-width="0.6"/>
<text transform="translate(156,1500) rotate(-90)" text-anchor="middle" class="b" font-size="4.8">Анастасия</text>
<text x="160" y="1562" class="n" style="font-weight:bold">1361</text>
<rect x="165" y="1366" width="12" height="137" fill="#eef2fa" stroke="#000" stroke-width="1"/>
<rect x="165" y="1407" width="12" height="9" fill="none" stroke="#ff0000" stroke-width="0.6"/>
<text transform="translate(173,1440) rotate(-90)" text-anchor="middle" class="b dg" font-size="4.8">Мария Галицкая</text>
<text x="164" y="1511" class="n" style="font-weight:bold">1341</text>
<rect x="183" y="1357" width="11" height="96" fill="#ccffcc" stroke="#339933" stroke-width="0.6"/>
<text transform="translate(191,1400) rotate(-90)" text-anchor="middle" class="b dg" font-size="4.8">Лев</text>
<rect x="200" y="1354" width="12" height="99" fill="#ccffcc" stroke="#339933" stroke-width="0.6"/>
<text transform="translate(208,1402) rotate(-90)" text-anchor="middle" class="b dg" font-size="4.8">Андрей</text>
<text x="190" y="1461" class="n" style="font-weight:bold">1323</text>
<text x="183" y="1469" class="b" font-size="5.4" fill="#003300" style="font-family:'Liberation Sans Narrow','Liberation Sans',sans-serif">Конец старшей линии</text>
<text x="183" y="1477.5" class="b" font-size="5.4" fill="#003300" style="font-family:'Liberation Sans Narrow','Liberation Sans',sans-serif">рода Рюриков</text>
<text x="177" y="1524" class="n" style="font-weight:bold">1349</text>
</svg>
</body></html>
